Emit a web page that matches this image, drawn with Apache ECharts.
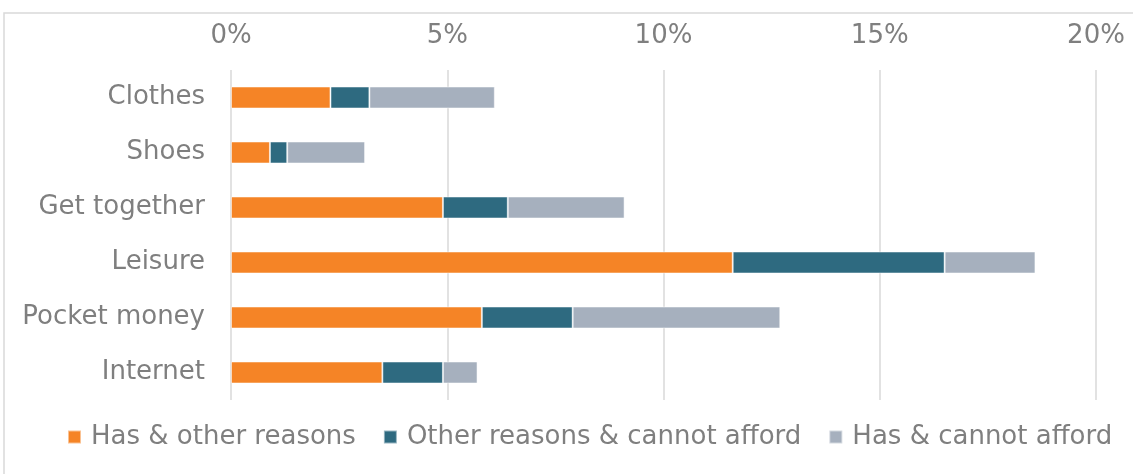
<!DOCTYPE html>
<html>
<head>
<meta charset="utf-8">
<script src="https://cdn.jsdelivr.net/npm/echarts@6/dist/echarts.min.js"></script>
<style>
  html, body { margin: 0; padding: 0; background: #fff; }
  #chart { width: 1133px; height: 474px; }
</style>
</head>
<body>
<div id="chart"></div>
<script>
// data (percent)
const categories = ['Clothes', 'Shoes', 'Get together', 'Leisure', 'Pocket money', 'Internet']
const hasOther = [2.3, 0.9, 4.9, 11.6, 5.8, 3.5]
const otherCannot = [0.9, 0.4, 1.5, 4.9, 2.1, 1.4]
const hasCannot = [2.9, 1.8, 2.7, 2.1, 4.8, 0.8]
const xTicks = [0, 5, 10, 15, 20]

const colors = ['#F58426', '#2E6A80', '#A6B0BE']
const textColor = '#7f7f7f'
const font = 'DejaVu Sans'
const fontSize = 26

const chart = echarts.init(document.getElementById('chart'))

const makeSeries = (name, data, idx) => ({
  name: name,
  type: 'bar',
  stack: 'total',
  barWidth: 22,
  data: data,
  itemStyle: { color: colors[idx], borderColor: 'rgba(255,255,255,0.5)', borderWidth: 1 }
})

chart.setOption({
  animation: false,
  textStyle: { fontFamily: font },
  graphic: [{
    type: 'rect',
    shape: { x: 4, y: 13, width: 1140, height: 470 },
    style: { fill: 'none', stroke: '#d9d9d9', lineWidth: 1.5 },
    silent: true
  }],
  grid: { left: 231, right: 37, top: 70, bottom: 74 },
  legend: {
    bottom: 19,
    left: 62,
    itemWidth: 13,
    itemHeight: 13,
    itemGap: 27,
    icon: 'rect',
    textStyle: { fontSize: fontSize, color: textColor, fontFamily: font, padding: [0, 0, 0, 5] },
    data: ['Has & other reasons', 'Other reasons & cannot afford', 'Has & cannot afford']
  },
  xAxis: {
    type: 'value',
    position: 'top',
    min: xTicks[0],
    max: xTicks[xTicks.length - 1],
    interval: 5,
    axisLine: { show: false },
    axisTick: { show: false },
    axisLabel: { formatter: '{value}%', fontSize: fontSize, color: textColor, fontFamily: font, margin: 21 },
    splitLine: { lineStyle: { color: '#d9d9d9', width: 1.5 } }
  },
  yAxis: {
    type: 'category',
    inverse: true,
    data: categories,
    axisLine: { show: false },
    axisTick: { show: false },
    axisLabel: { fontSize: fontSize, color: textColor, fontFamily: font, margin: 26 }
  },
  series: [
    makeSeries('Has & other reasons', hasOther, 0),
    makeSeries('Other reasons & cannot afford', otherCannot, 1),
    makeSeries('Has & cannot afford', hasCannot, 2)
  ]
})
</script>
</body>
</html>
